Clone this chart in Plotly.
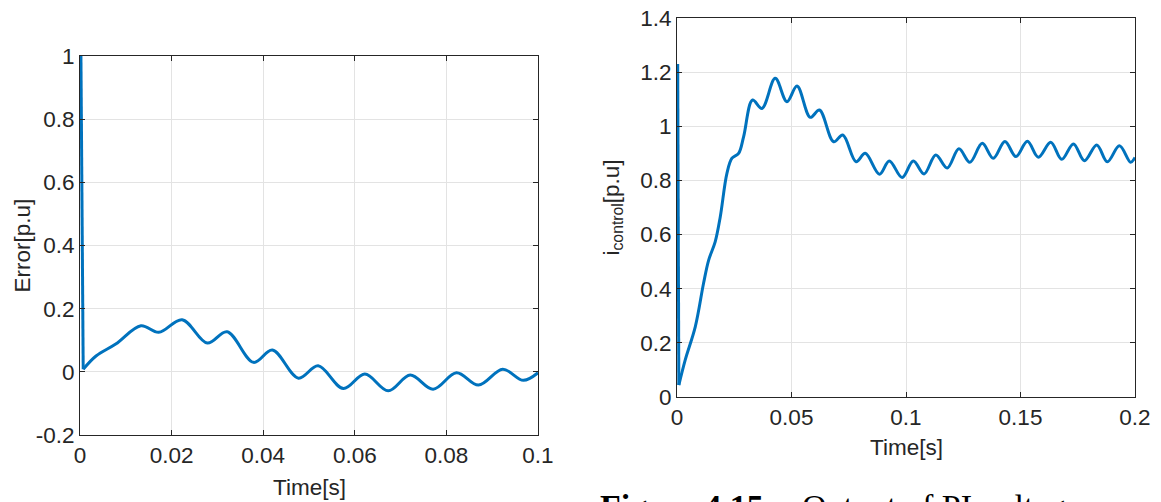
import plotly.graph_objects as go

# ---- Left panel: controller error ----
err_t = [0.0002, 0.0007, 0.0035, 0.0078, 0.0133, 0.0172, 0.0223, 0.0278, 0.0321,
         0.0379, 0.0420, 0.0477, 0.0520, 0.0575, 0.0622, 0.0673, 0.0721,
         0.0771, 0.0822, 0.0870, 0.0923, 0.0968, 0.1000]
err_v = [1.0, 0.008, 0.050, 0.088, 0.146, 0.125, 0.165, 0.091, 0.127,
         0.030, 0.069, -0.020, 0.019, -0.053, -0.007, -0.060, -0.010,
         -0.055, -0.003, -0.042, 0.008, -0.027, -0.003]

# ---- Right panel: i_control ----
ic_t = [0.0003, 0.0008, 0.0036, 0.0080, 0.0116, 0.0138, 0.0167, 0.0189, 0.0218,
        0.0240, 0.0269, 0.0291, 0.0330, 0.0371, 0.0429, 0.0480, 0.0524,
        0.0582, 0.0622, 0.0684, 0.0724, 0.0782, 0.0822, 0.0884, 0.0927,
        0.0983, 0.1032, 0.1079, 0.1130, 0.1180, 0.1231, 0.1279, 0.1333,
        0.1381, 0.1432, 0.1480, 0.1530, 0.1578, 0.1632, 0.1680, 0.1731,
        0.1779, 0.1833, 0.1879, 0.1932, 0.1981, 0.2000]
ic_v = [1.23, 0.044, 0.137, 0.260, 0.420, 0.505, 0.574, 0.666, 0.826,
        0.882, 0.900, 0.962, 1.097, 1.066, 1.177, 1.091, 1.149,
        1.033, 1.060, 0.943, 0.968, 0.869, 0.900, 0.823, 0.872,
        0.811, 0.872, 0.824, 0.894, 0.846, 0.917, 0.867, 0.937,
        0.882, 0.944, 0.888, 0.945, 0.886, 0.941, 0.878, 0.935,
        0.873, 0.931, 0.869, 0.928, 0.867, 0.885]

# ---- Tick labels ----
left_xticks = [0, 0.02, 0.04, 0.06, 0.08, 0.1]
left_xlabels = ["0", "0.02", "0.04", "0.06", "0.08", "0.1"]
left_yticks = [-0.2, 0, 0.2, 0.4, 0.6, 0.8, 1.0]
left_ylabels = ["-0.2", "0", "0.2", "0.4", "0.6", "0.8", "1"]
right_xticks = [0, 0.05, 0.1, 0.15, 0.2]
right_xlabels = ["0", "0.05", "0.1", "0.15", "0.2"]
right_yticks = [0, 0.2, 0.4, 0.6, 0.8, 1.0, 1.2, 1.4]
right_ylabels = ["0", "0.2", "0.4", "0.6", "0.8", "1", "1.2", "1.4"]

W, H = 1161, 502
LINE = "#0072BD"
AX = "#262626"
GRID = "#e3e3e3"
FONT = "Liberation Sans, Arial, sans-serif"
SERIF = "Liberation Serif, Times New Roman, Times, serif"
TICK_SIZE = 22.5
TITLE_SIZE = 22.5


def px_x(p):
    return p / W


def px_y(p):
    return (H - p) / H


fig = go.Figure()
# initial step drop drawn straight, remainder drawn smooth
fig.add_trace(go.Scatter(x=err_t[:2], y=err_v[:2], mode="lines", xaxis="x", yaxis="y",
                         line=dict(color=LINE, width=3), showlegend=False))
fig.add_trace(go.Scatter(x=err_t[1:], y=err_v[1:], mode="lines", xaxis="x", yaxis="y",
                         line=dict(color=LINE, width=3, shape="spline", smoothing=1.0),
                         showlegend=False))
fig.add_trace(go.Scatter(x=ic_t[:2], y=ic_v[:2], mode="lines", xaxis="x2", yaxis="y2",
                         line=dict(color=LINE, width=3), showlegend=False))
fig.add_trace(go.Scatter(x=ic_t[1:], y=ic_v[1:], mode="lines", xaxis="x2", yaxis="y2",
                         line=dict(color=LINE, width=3, shape="spline", smoothing=1.0),
                         showlegend=False))

common = dict(showline=True, linecolor=AX, linewidth=1, mirror="ticks",
              ticks="inside", ticklen=5, tickcolor=AX, tickwidth=1,
              showgrid=True, gridcolor=GRID, gridwidth=1, zeroline=False,
              automargin=False,
              tickfont=dict(family=FONT, size=TICK_SIZE, color=AX))
tfont = dict(family=FONT, size=TITLE_SIZE, color=AX)
cfont = dict(family=SERIF, size=34, color="#000000")

fig.update_layout(
    width=W, height=H, margin=dict(l=0, r=0, t=0, b=0, autoexpand=False),
    paper_bgcolor="white", plot_bgcolor="white",
    xaxis=dict(domain=[px_x(80), px_x(538)], range=[0, 0.1], anchor="y",
               tickvals=left_xticks, ticktext=left_xlabels, **common),
    yaxis=dict(domain=[px_y(435), px_y(56)], range=[-0.2, 1.0], anchor="x",
               tickvals=left_yticks, ticktext=left_ylabels, **common),
    xaxis2=dict(domain=[px_x(677), px_x(1135)], range=[0, 0.2], anchor="y2",
                tickvals=right_xticks, ticktext=right_xlabels, **common),
    yaxis2=dict(domain=[px_y(397), px_y(18)], range=[0, 1.4], anchor="x2",
                tickvals=right_yticks, ticktext=right_ylabels, **common),
    annotations=[
        dict(text="Time[s]", xref="paper", yref="paper", x=px_x(309), y=px_y(487),
             xanchor="center", yanchor="middle", showarrow=False, font=tfont),
        dict(text="Error[p.u]", xref="paper", yref="paper", x=px_x(22), y=px_y(245.5),
             xanchor="center", yanchor="middle", textangle=-90, showarrow=False, font=tfont),
        dict(text="Time[s]", xref="paper", yref="paper", x=px_x(906), y=px_y(447),
             xanchor="center", yanchor="middle", showarrow=False, font=tfont),
        dict(text="i<sub>control</sub>[p.u]", xref="paper", yref="paper", x=px_x(613), y=px_y(207.5),
             xanchor="center", yanchor="middle", textangle=-90, showarrow=False, font=tfont),
        dict(text="<b>Figure 4.15:</b>", xref="paper", yref="paper",
             x=px_x(598), y=px_y(486), xanchor="left", yanchor="top",
             showarrow=False, font=cfont),
        dict(text="Output of PI voltage con", xref="paper", yref="paper",
             x=px_x(800), y=px_y(486), xanchor="left", yanchor="top",
             showarrow=False, font=cfont),
    ],
)

fig.write_html("out.html")
